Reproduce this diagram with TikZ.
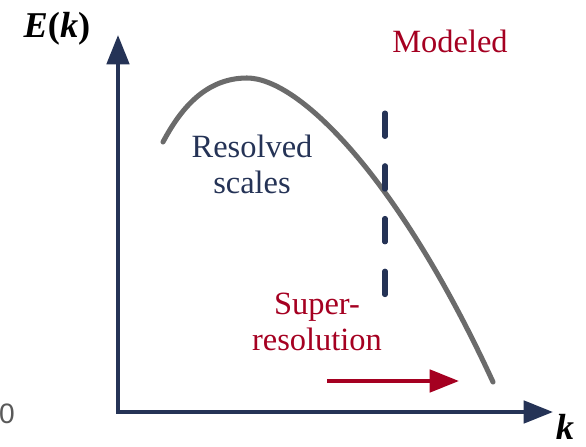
\documentclass[tikz,border=0pt]{standalone}
\usepackage{fontspec}
\setmainfont{Liberation Serif}
\newfontfamily\zerofont{Liberation Sans}
\usetikzlibrary{arrows.meta}
\definecolor{axisnavy}{HTML}{253356}
\definecolor{modelred}{HTML}{A50021}
\definecolor{curvegray}{HTML}{6B6B6B}
\definecolor{zerogray}{HTML}{595959}

\begin{document}
\begin{tikzpicture}[x=0.03cm, y=-0.03cm,
    axis/.style={line width=3.4pt, axisnavy, {Triangle[length=25pt,width=19pt]}-{Triangle[length=25pt,width=19pt]}},
    srarrow/.style={line width=3.4pt, modelred, -{Triangle[length=25pt,width=19pt]}},
    cutoff/.style={line width=4.3pt, axisnavy, line cap=round, dash pattern=on 20pt off 25pt},
    spectrum/.style={line width=4.3pt, curvegray, line cap=round},
    lbl/.style={font=\fontsize{27.7}{30.5}\selectfont, align=center, inner sep=0pt, anchor=base},
    axlbl/.style={font=\fontsize{31}{34}\selectfont, inner sep=0pt, anchor=base}
]
\useasboundingbox (0,0) rectangle (586,447);

% axes
\coordinate (ytip) at (118,35);
\coordinate (origin) at (118,412);
\coordinate (xtip) at (553,412);
\draw[axis] (ytip) |- (xtip);
\node[axlbl] (Elbl) at (57,37) {\textbf{\textit{E}(\textit{k})}};
\node[axlbl] (klbl) at (565,439) {\textbf{\textit{k}}};
\node[font=\zerofont\fontsize{24}{26}\selectfont, text=zerogray, inner sep=0pt] (zero) at (7,414) {0};

% energy spectrum
\coordinate (specstart) at (163,142);
\coordinate (specpeak) at (247,78);
\coordinate (specend) at (493,382);
\draw[spectrum] (specstart) .. controls (180,110) and (205,78) .. (specpeak)
    .. controls (300,78) and (400,180) .. (specend);

% cut-off between resolved and modeled
\coordinate (cuttop) at (385,113);
\coordinate (cutbot) at (385,297);
\draw[cutoff] (cuttop) -- (cutbot);

\node[lbl, text=modelred] (modeled) at (450,52) {Modeled};
\node[lbl, text=axisnavy] (resolved) at (252,193) {Resolved\\scales};
\node[lbl, text=modelred] (superres) at (317,350) {Super-\\resolution};

% super-resolution arrow
\coordinate (srstart) at (327,381);
\coordinate (srend) at (459,381);
\draw[srarrow] (srstart) -- (srend);
\end{tikzpicture}
\end{document}
